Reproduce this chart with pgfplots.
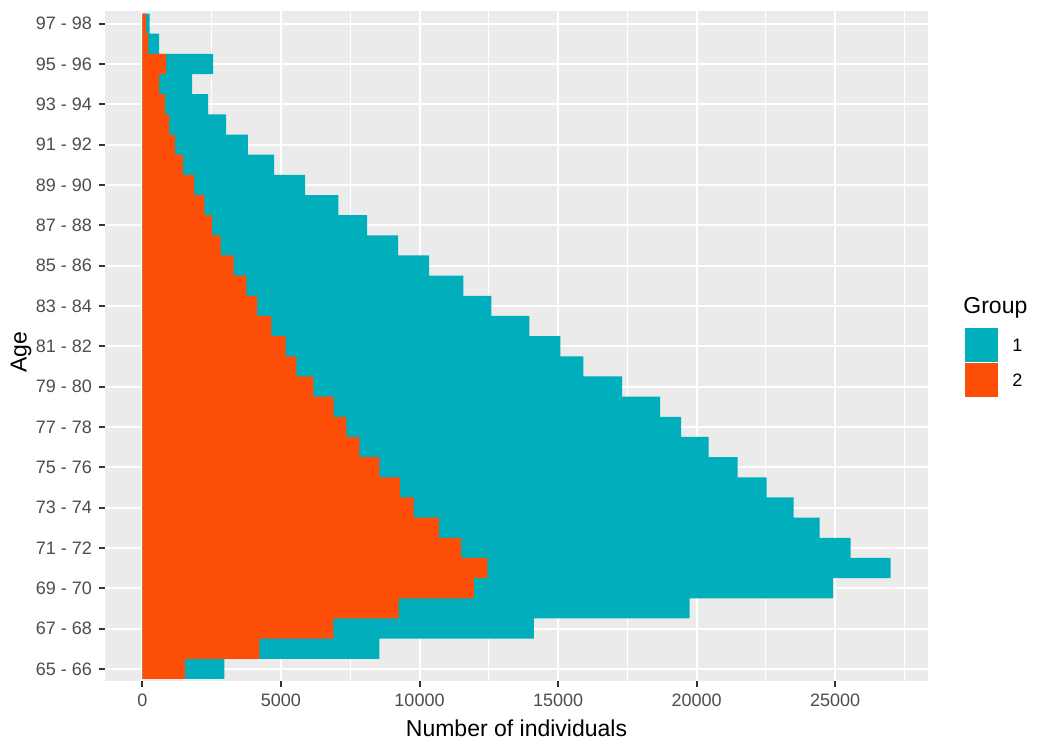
\documentclass[border=0pt]{standalone}
\usepackage{pgfplots}
\pgfplotsset{compat=1.18}
\usepackage{pgfplotstable}
\usepackage{fontspec}
\setmainfont{Liberation Sans}
\definecolor{gOne}{HTML}{00AFBB}
\definecolor{gTwo}{HTML}{FC4E07}
\definecolor{panel}{HTML}{EBEBEB}
\definecolor{ticklab}{HTML}{4D4D4D}
\definecolor{tickcol}{HTML}{333333}
\pgfplotstableread{
idx teal orange
0 2960 1530
1 8550 4220
2 14130 6890
3 19750 9250
4 24930 11960
5 27000 12450
6 25560 11500
7 24440 10700
8 23500 9790
9 22530 9290
10 21480 8550
11 20430 7830
12 19440 7360
13 18680 6900
14 17310 6170
15 15910 5560
16 15080 5170
17 13960 4650
18 12590 4140
19 11580 3750
20 10350 3290
21 9230 2820
22 8110 2520
23 7070 2240
24 5870 1870
25 4750 1460
26 3810 1180
27 3020 960
28 2370 810
29 1790 600
30 2550 860
31 600 210
32 260 130
}\datatable
\begin{document}
\begin{tikzpicture}
\useasboundingbox (0,0) rectangle (525pt,375pt);
\fill[white] (0,0) rectangle (525pt,375pt);
\begin{axis}[
  at={(52.5pt,34.5pt)}, anchor=south west,
  scale only axis, width=411.5pt, height=334.75pt,
  xmin=-1350, xmax=28350, ymin=-0.6, ymax=32.6,
  axis background/.style={fill=panel},
  axis line style={draw=none},
  xbar, bar width=1, bar shift=0pt,
  scaled x ticks=false,
  xtick pos=bottom, ytick pos=left,
  xtick={0,5000,10000,15000,20000,25000},
  minor xtick={2500,7500,12500,17500,22500,27500},
  xticklabels={0,5000,10000,15000,20000,25000},
  ytick={0,2,...,32},
  yticklabels={65 - 66,67 - 68,69 - 70,71 - 72,73 - 74,75 - 76,77 - 78,79 - 80,81 - 82,83 - 84,85 - 86,87 - 88,89 - 90,91 - 92,93 - 94,95 - 96,97 - 98},
  xmajorgrids, ymajorgrids, xminorgrids,
  major grid style={white, line width=1pt},
  minor grid style={white, line width=0.5pt},
  tick align=outside,
  major tick length=2.75pt,
  minor tick length=0pt,
  tick style={tickcol, line width=1pt},
  every tick label/.style={font=\fontsize{9}{11}\selectfont, text=ticklab},
  xticklabel style={yshift=-0.3pt},
  yticklabel style={xshift=-0.3pt},
  xlabel={Number of individuals},
  label style={font=\fontsize{11.5}{13}\selectfont, text=black},
  xlabel style={yshift=0.5pt},
  clip=false,
]
\addplot[fill=gOne, draw=none] table[x=teal, y=idx] {\datatable};
\addplot[fill=gTwo, draw=none] table[x=orange, y=idx] {\datatable};
\end{axis}
\node[rotate=90, inner sep=0pt, font=\fontsize{11.5}{13}\selectfont] at (10.5pt,199pt) {Age};
\node[anchor=base west, inner sep=0pt, font=\fontsize{11.5}{13}\selectfont] at (481.5pt,218pt) {Group};
\fill[gOne] (482.5pt,194pt) rectangle (499pt,211pt);
\fill[gTwo] (482.5pt,176.5pt) rectangle (499pt,193.5pt);
\node[anchor=west, inner sep=0pt, font=\fontsize{9}{11}\selectfont] at (506pt,202.5pt) {1};
\node[anchor=west, inner sep=0pt, font=\fontsize{9}{11}\selectfont] at (506pt,185pt) {2};
\end{tikzpicture}
\end{document}
